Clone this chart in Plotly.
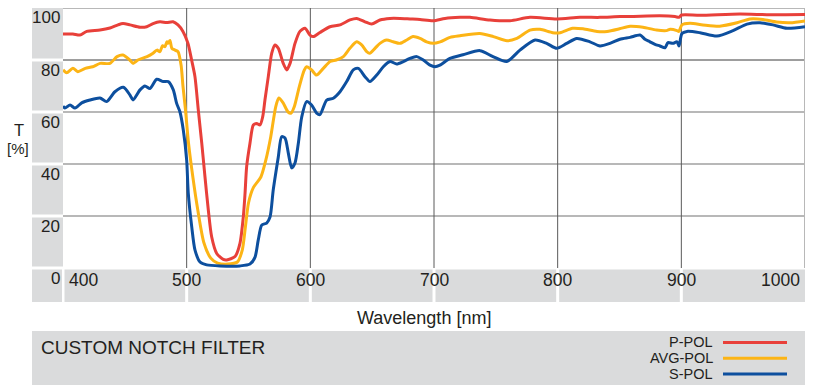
import plotly.graph_objects as go

# ---------------- data ----------------
wl_p = [400, 408, 413.7, 419.2, 429.9, 438, 444.5, 448.5, 454.2, 462.3, 467.7, 472.8, 478.4, 483.8, 489,
        493, 497, 501, 504, 506.7, 509.4, 512.2, 514.8, 517.5, 520.2, 524.3, 529.6, 532.4, 539.1, 543.1,
        545.8, 547.2, 548.5, 551.2, 553.9, 556.6, 559.3, 561.5, 563.3, 566, 568.8, 571.4, 574.1, 578.1,
        580.9, 583.6, 587.6, 591.6, 595.7, 599.7, 602.4, 607.8, 615.9, 624, 632, 637.5, 644.2, 649.6,
        656.3, 664.4, 672.5, 680.6, 688.7, 699.4, 708.9, 721, 729.1, 745.3, 761.4, 777.6, 799.2, 818,
        834.2, 850.4, 858.5, 882.7, 894.9, 898.1, 900.3, 915.1, 947.4, 971.7, 1000]
t_p = [90, 90, 89.6, 91, 91.5, 92.3, 93.5, 94, 93.5, 92.6, 92.8, 94, 94.7, 94.4, 94.7,
       93.5, 91, 86.5, 80, 73.6, 60.8, 48, 35.1, 22.3, 12, 5.6, 3.3, 3.1, 4.4, 9.5,
       19.7, 28.7, 39, 48, 55, 55.6, 55, 58.2, 64.6, 73.6, 82.6, 85.8, 84.5, 78.7,
       76.2, 78.7, 86.4, 91, 92.2, 89.6, 89, 90.6, 92.8, 93.5, 95.4, 96, 94.7, 93.8,
       95.4, 96, 96, 95.8, 95.6, 95.1, 96, 96.4, 96.4, 95.4, 95.1, 96.4, 95.8, 96.4,
       96.4, 96.7, 96.7, 97, 96.7, 96.4, 97.3, 97.2, 97.7, 97.4, 97.5]

wl_avg = [400, 403, 408, 412, 418, 424, 430, 438, 443.7, 448.5, 454, 456.6, 460.6, 468, 472.8, 476,
          478.4, 480.5, 482.5, 484, 485, 486.5, 488, 490.6, 493, 495.5, 497, 499, 501.5, 505, 509,
          514, 519.5, 525, 533, 541, 545, 547.5, 550, 554, 560, 564, 568, 572, 574.5, 578, 582,
          584.5, 587, 591, 595, 597, 601, 605, 610.5, 616, 621, 626.7, 632, 637.5, 641.5, 645.6,
          648, 652.3, 656.3, 661.7, 667, 672.5, 678, 683, 688.7, 694, 699.4, 705, 713, 721, 737,
          748, 759, 767, 777.6, 785.7, 796, 802, 812, 820.5, 831.8, 840, 850, 858.5, 869, 880,
          888, 891, 896.5, 898, 900.5, 907, 917.5, 931, 945, 955.5, 966, 977, 988, 1000]
t_avg = [76.2, 75.1, 76.8, 75.5, 76.8, 77.4, 78.7, 78.7, 81.3, 81.9, 80, 78.7, 80, 81.3, 82.6, 83.8,
         83.2, 85.5, 85.1, 87, 86.4, 87.5, 84.5, 83.8, 83.2, 78, 70, 61, 48, 35, 22.3,
         9.6, 3.8, 1.9, 1.5, 2.3, 7, 15.8, 25, 31, 35, 41.5, 50.5, 62, 65.4, 63.5, 60,
         59.6, 62, 69.6, 76, 77.4, 76.2, 74.2, 76.8, 79.4, 80, 81.3, 84.5, 87, 85.8, 83.2,
         82.6, 84.5, 86.4, 87.7, 87, 86.4, 87.7, 89, 88.3, 87, 86.4, 87, 88.7, 89.3, 90.2,
         89, 87.4, 88.3, 91.5, 91.8, 90.5, 90.5, 92.2, 92, 91, 91, 92, 93, 92.6, 91.5,
         91.3, 91.8, 91.3, 91, 93.5, 94.1, 93.5, 93, 94.3, 95.8, 95.6, 94.6, 94.3, 95]

wl_s = [400, 401.6, 405.7, 409.7, 415.1, 421.8, 429.9, 435.3, 442, 448.8, 454.2, 456.6, 462.3, 466.3,
        470.3, 475.8, 481.1, 485.1, 489.2, 491.9, 494.6, 497.3, 500, 501.3, 504.1, 506.7, 510.8,
        516.2, 527, 543.1, 551.2, 555.3, 557.9, 560.7, 564.7, 567.4, 570, 574.1, 576.8, 579.5,
        582.2, 584.9, 587.6, 590.3, 593, 597, 601, 605.1, 607.8, 613.2, 618.6, 624, 629.4, 634.7,
        638.8, 644.2, 648.2, 653.7, 659, 664.4, 669.8, 675.2, 680.6, 686, 691.3, 696.8, 700.8,
        704.8, 712.9, 723.4, 737.2, 747.7, 758.8, 769.5, 781.7, 791.1, 799.2, 807.3, 815.4,
        826.1, 834.2, 842.3, 850.4, 858.5, 866.6, 870.6, 874.6, 878.7, 882.7, 886.8, 889.2,
        893.2, 896.5, 898.1, 900.5, 904.6, 915.1, 928.8, 941.8, 953.1, 963.6, 974.1, 985.4, 1000]
t_s = [62.3, 61.5, 62.7, 61.5, 63.5, 64.6, 65.4, 64, 67.8, 69.5, 66.5, 64.6, 68.5, 70,
       69, 72.6, 71.7, 71.7, 68.5, 63.3, 60, 53, 41.5, 28.8, 15.8, 7, 2.3,
       1.2, 0.8, 0.8, 1.5, 4.2, 10.8, 16.5, 17.3, 19.6, 30, 42.7, 50.5, 50,
       44.2, 38.5, 40.4, 48, 58, 64, 62.7, 59.6, 59, 64.6, 65.3, 67.8, 71.7, 76.2,
       76.8, 73.6, 71.7, 74.2, 77.4, 79.4, 78.5, 79.4, 80.6, 81.3, 80, 78, 77.4,
       78, 80.6, 82, 83.6, 81.3, 79.4, 83.8, 87.7, 86.4, 84.5, 86.4, 88.3,
       87, 85.4, 86.4, 88, 88.7, 89.6, 88, 87, 86, 85.4, 84.7, 86.7,
       86.4, 87, 85.4, 90.2, 91, 90.5, 89.2, 91.3, 93.8, 94.3, 93.5, 92.2, 92.8]

series_names = ["P-POL", "AVG-POL", "S-POL"]
series_colors = ["#e8403a", "#fcb415", "#0d4f9e"]
x_ticks = [400, 500, 600, 700, 800, 900, 1000]
y_ticks = [0, 20, 40, 60, 80, 100]
x_title = "Wavelength [nm]"
y_title = ["T", "[%]"]
chart_title = "CUSTOM NOTCH FILTER"

# ---------------- layout geometry (pixels) ----------------
W, H = 814, 392
PL, PR, PT, PB = 63, 805, 8, 268
X0, X1 = 400, 1000
Y0, Y1 = 0, 100
FONT = "Liberation Sans, Arial, Helvetica, sans-serif"
GRAY = "#dadbdc"
TXT = "#231f20"


def px(x):
    return (x - PL) / (PR - PL)


def py(y):
    return (PB - y) / (PB - PT)


def xpix(v):
    return PL + (v - X0) / (X1 - X0) * (PR - PL)


def ypix(v):
    return PB - (v - Y0) / (Y1 - Y0) * (PB - PT)


fig = go.Figure()
for name, col, xs, ys in zip(series_names, series_colors,
                             [wl_p, wl_avg, wl_s], [t_p, t_avg, t_s]):
    fig.add_trace(go.Scatter(x=xs, y=ys, mode="lines", name=name,
                             line=dict(color=col, width=3, shape="spline", smoothing=0.7),
                             showlegend=False, hoverinfo="x+y+name"))

shapes = []
annotations = []

# y label column cells
ypx = sorted([ypix(v) for v in y_ticks])  # top..bottom
for a, b in zip(ypx[:-1], ypx[1:]):
    shapes.append(dict(type="rect", xref="paper", yref="paper", x0=px(32), x1=px(PL),
                       y0=py(b - 1.5), y1=py(a + (0 if a == ypx[0] else 1.5)),
                       fillcolor=GRAY, line=dict(width=0), layer="below"))
# corner cell for "0"
BAND_B = 302
shapes.append(dict(type="rect", xref="paper", yref="paper", x0=px(32), x1=px(PL - 1),
                   y0=py(BAND_B), y1=py(PB + 1.5), fillcolor=GRAY, line=dict(width=0), layer="below"))
# x label band cells
xpx = [xpix(v) for v in x_ticks]
for i, (a, b) in enumerate(zip(xpx[:-1], xpx[1:])):
    shapes.append(dict(type="rect", xref="paper", yref="paper",
                       x0=px(a + 1.5), x1=px(b - 1.5 if i < len(xpx) - 2 else b),
                       y0=py(BAND_B), y1=py(PB + 1.5), fillcolor=GRAY, line=dict(width=0), layer="below"))

# gridlines
for v in y_ticks:
    if v == 0:
        continue
    dark = (v == 80)
    shapes.append(dict(type="line", xref="paper", yref="y", x0=0, x1=1, y0=v, y1=v,
                       line=dict(color="#3c3c3c" if dark else "#b8b8b8", width=1 if dark else 2),
                       layer="below"))
for v in x_ticks:
    if v == X0:
        continue
    edge = (v == X1)
    shapes.append(dict(type="line", xref="x", yref="paper", x0=v, x1=v, y0=0, y1=1,
                       line=dict(color="#b8b8b8" if edge else "#5a5a5a", width=2 if edge else 1),
                       layer="below"))

# tick labels
for v in y_ticks:
    annotations.append(dict(xref="paper", yref="paper", x=px(62), y=py(ypix(v) + 10),
                            text=str(v), showarrow=False, xanchor="right", yanchor="middle",
                            font=dict(family=FONT, size=17, color=TXT)))
for v in x_ticks:
    if v == X0:
        xa, xs = "left", 4
    elif v == X1:
        xa, xs = "right", -3
    else:
        xa, xs = "center", 0
    annotations.append(dict(xref="x", yref="paper", x=v, y=py(280), xshift=xs,
                            text=str(v), showarrow=False, xanchor=xa, yanchor="middle",
                            font=dict(family=FONT, size=17.5, color=TXT)))

# axis titles
annotations.append(dict(xref="paper", yref="paper", x=px(424), y=py(318), text=x_title,
                        showarrow=False, xanchor="center", yanchor="middle",
                        font=dict(family=FONT, size=18, color=TXT)))
annotations.append(dict(xref="paper", yref="paper", x=px(19), y=py(129.5), text=y_title[0],
                        showarrow=False, xanchor="center", yanchor="middle", borderpad=0,
                        font=dict(family=FONT, size=16.5, color=TXT)))
annotations.append(dict(xref="paper", yref="paper", x=px(18), y=py(148.5), text=y_title[1],
                        showarrow=False, xanchor="center", yanchor="middle", borderpad=0,
                        font=dict(family=FONT, size=15, color=TXT)))

# bottom title box with legend
shapes.append(dict(type="rect", xref="paper", yref="paper", x0=px(32), x1=px(805),
                   y0=py(385), y1=py(331), fillcolor=GRAY, line=dict(width=0), layer="below"))
annotations.append(dict(xref="paper", yref="paper", x=px(39), y=py(347), text=chart_title,
                        showarrow=False, xanchor="left", yanchor="middle",
                        font=dict(family=FONT, size=19, color=TXT)))
leg_y = [342.5, 358.3, 374]
for name, col, ly in zip(series_names, series_colors, leg_y):
    annotations.append(dict(xref="paper", yref="paper", x=px(714), y=py(ly), text=name,
                            showarrow=False, xanchor="right", yanchor="middle", borderpad=0,
                            font=dict(family=FONT, size=14.5, color=TXT)))
    shapes.append(dict(type="line", xref="paper", yref="paper", x0=px(723), x1=px(787),
                       y0=py(ly), y1=py(ly), line=dict(color=col, width=3)))

fig.update_layout(
    width=W, height=H,
    margin=dict(l=PL, r=W - PR, t=PT, b=H - PB, pad=0),
    paper_bgcolor="white", plot_bgcolor="white",
    xaxis=dict(range=[X0, X1], showgrid=False, zeroline=False, showticklabels=False,
               showline=False, ticks=""),
    yaxis=dict(range=[Y0, Y1], showgrid=False, zeroline=False, showticklabels=False,
               showline=False, ticks=""),
    shapes=shapes, annotations=annotations,
    showlegend=False,
)

fig.write_html("out.html", config={"displayModeBar": False})

# remove the browser's default page margin so the figure sits at the window's top-left
with open("out.html", "r", encoding="utf-8") as f:
    html = f.read()
html = html.replace("<head>", "<head><style>html,body{margin:0;padding:0;overflow:hidden;}</style>", 1)
with open("out.html", "w", encoding="utf-8") as f:
    f.write(html)
